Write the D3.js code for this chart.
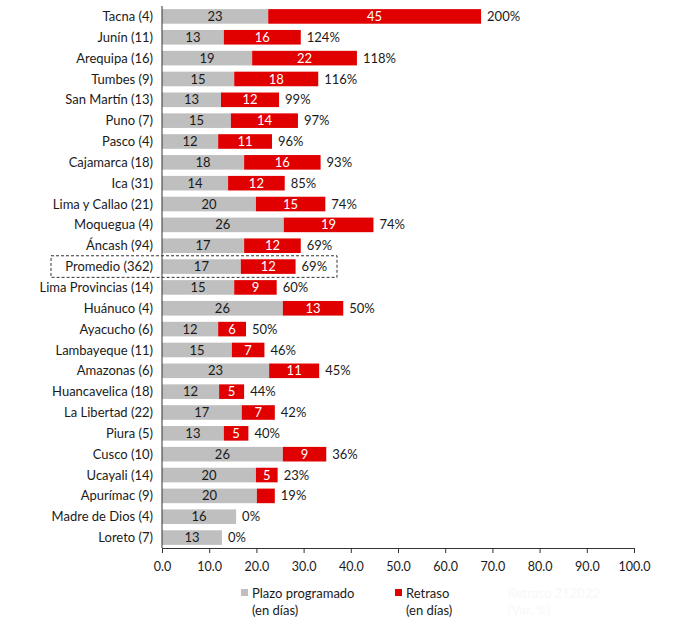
<!DOCTYPE html>
<html><head><meta charset="utf-8">
<script src="https://cdn.jsdelivr.net/npm/d3@7"></script>
<style>body{margin:0;background:#fff}svg{display:block}text{font-family:Lato,"Open Sans",sans-serif}</style>
</head><body>
<script>
const categories = ["Tacna (4)","Junín (11)","Arequipa (16)","Tumbes (9)","San Martín (13)","Puno (7)","Pasco (4)","Cajamarca (18)","Ica (31)","Lima y Callao (21)","Moquegua (4)","Áncash (94)","Promedio (362)","Lima Provincias (14)","Huánuco (4)","Ayacucho (6)","Lambayeque (11)","Amazonas (6)","Huancavelica (18)","La Libertad (22)","Piura (5)","Cusco (10)","Ucayali (14)","Apurímac (9)","Madre de Dios (4)","Loreto (7)"];
const plazo   = [22.5,13.1,19.1,15.3,12.5,14.6,11.9,17.4,14.0,19.9,25.8,17.4,16.7,15.3,25.6,11.9,14.8,22.7,12.1,16.9,13.1,25.6,19.9,20.1,15.7,12.7];
const retraso = [45.1,16.3,22.2,17.8,12.3,14.2,11.4,16.2,12.0,14.7,19.0,12.0,11.6,9.0,12.8,5.9,6.9,10.6,5.3,7.0,5.2,9.2,4.6,3.8,0,0];
const plazoLabels   = ["23","13","19","15","13","15","12","18","14","20","26","17","17","15","26","12","15","23","12","17","13","26","20","20","16","13"];
const retrasoLabels = ["45","16","22","18","12","14","11","16","12","15","19","12","12","9","13","6","7","11","5","7","5","9","5","","",""];
const pctLabels = ["200%","124%","118%","116%","99%","97%","96%","93%","85%","74%","74%","69%","69%","60%","50%","50%","46%","45%","44%","42%","40%","36%","23%","19%","0%","0%"];
const xTicks = [0,10,20,30,40,50,60,70,80,90,100];
const legendItems = [["Plazo programado","(en días)"],["Retraso","(en días)"],["Retraso 2T2022","(Var. %)"]];

const W=683,H=626;
const svg=d3.select("body").append("svg").attr("width",W).attr("height",H);
const x=d3.scaleLinear().domain([0,100]).range([162,634]);
const y=d3.scaleBand().domain(categories).range([6,548]).paddingInner(0.3).paddingOuter(0.15);
const GRAY="#bfbfbf",RED="#e00000";

const rows=svg.append("g").selectAll("g").data(categories).join("g");
rows.append("rect").attr("x",x(0)).attr("y",d=>y(d)).attr("height",y.bandwidth())
  .attr("width",(d,i)=>x(plazo[i])-x(0)).attr("fill",GRAY);
rows.append("rect").attr("x",(d,i)=>x(plazo[i])).attr("y",d=>y(d)).attr("height",y.bandwidth())
  .attr("width",(d,i)=>x(plazo[i]+retraso[i])-x(plazo[i])).attr("fill",RED);
const mid=d=>y(d)+y.bandwidth()/2;
rows.append("text").attr("x",(d,i)=>x(plazo[i]/2)).attr("y",mid).attr("dy","0.35em")
  .attr("text-anchor","middle").attr("font-size",13).attr("fill","#1a1a1a").text((d,i)=>plazoLabels[i]);
rows.append("text").attr("x",(d,i)=>x(plazo[i]+retraso[i]/2)).attr("y",mid).attr("dy","0.35em")
  .attr("text-anchor","middle").attr("font-size",13).attr("fill","#fff").text((d,i)=>retrasoLabels[i]);
rows.append("text").attr("x",(d,i)=>x(plazo[i]+retraso[i])+6).attr("y",mid).attr("dy","0.35em")
  .attr("font-size",13).attr("fill","#1a1a1a").text((d,i)=>pctLabels[i]);

// category labels
svg.append("g").selectAll("text").data(categories).join("text")
  .attr("x",153).attr("y",mid).attr("dy","0.35em").attr("text-anchor","end")
  .attr("font-size",13).attr("fill","#1a1a1a").text(d=>d);

// y axis line
svg.append("line").attr("x1",x(0)).attr("x2",x(0)).attr("y1",6).attr("y2",548).attr("stroke","#333").attr("stroke-width",1);

// x axis
const xa=svg.append("g").attr("transform","translate(0,548)")
  .call(d3.axisBottom(x).tickValues(xTicks).tickFormat(d3.format(".1f")).tickSize(5).tickSizeOuter(0));
xa.select(".domain").attr("stroke","#333");
xa.selectAll(".tick line").attr("stroke","#333");
xa.selectAll("text").attr("font-size",12.5).attr("fill","#1a1a1a").attr("font-family","Lato,'Open Sans',sans-serif").attr("dy","1.2em");

// Promedio box
const pb=y("Promedio (362)");
svg.append("rect").attr("x",51).attr("y",pb-3.5).attr("width",286).attr("height",y.bandwidth()+7)
  .attr("fill","none").attr("stroke","#333").attr("stroke-dasharray","3,2").attr("stroke-width",1);

// legend
const lx=[241,395,497], lcol=[GRAY,RED,"#ffffff"], ltxt=["#1a1a1a","#1a1a1a","#f8f8f8"];
legendItems.forEach((it,i)=>{
  const g=svg.append("g");
  g.append("rect").attr("x",lx[i]).attr("y",589).attr("width",7).attr("height",7).attr("fill",lcol[i]);
  g.append("text").attr("x",lx[i]+11).attr("y",598).attr("font-size",13).attr("fill",ltxt[i]).text(it[0]);
  g.append("text").attr("x",lx[i]+11).attr("y",615).attr("font-size",13).attr("fill",ltxt[i]).text(it[1]);
});
</script>
</body></html>
